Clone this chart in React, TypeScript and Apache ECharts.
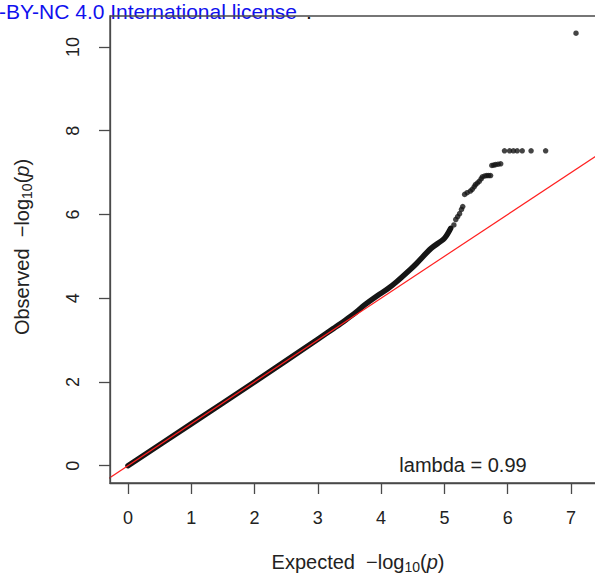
import React, { useEffect, useRef } from "react";
import * as echarts from "echarts";

// Dense part of the QQ curve (expected vs observed -log10 p)
const denseExpected = [0, 1, 2, 3, 3.25, 3.43, 3.6, 3.74, 3.94, 4.1, 4.25, 4.47, 4.56, 4.79, 5.0, 5.1];
const denseObserved = [0, 1, 2, 3.02, 3.28, 3.47, 3.66, 3.84, 4.06, 4.22, 4.4, 4.7, 4.83, 5.19, 5.43, 5.67];

// Sparse tail points
const tailExpected = [
  5.15, 5.18, 5.21, 5.24, 5.27, 5.29, 5.32, 5.36, 5.41, 5.44, 5.47, 5.49, 5.52, 5.55, 5.58,
  5.6, 5.64, 5.67, 5.7, 5.73, 5.75, 5.78, 5.81, 5.85, 5.89, 5.95, 6.03, 6.09, 6.15, 6.23,
  6.37, 6.6, 7.08,
];
const tailObserved = [
  5.75, 5.88, 5.95, 6.02, 6.12, 6.19, 6.48, 6.52, 6.56, 6.6, 6.66, 6.71, 6.75, 6.79, 6.85,
  6.9, 6.92, 6.93, 6.93, 6.93, 7.17, 7.18, 7.19, 7.2, 7.21, 7.52, 7.52, 7.52, 7.52, 7.52,
  7.52, 7.52, 10.33,
];

const xTicks = [0, 1, 2, 3, 4, 5, 6, 7];
const yTicks = [0, 2, 4, 6, 8, 10];
const xLimits = [-0.284, 7.38];
const yLimits = [-0.413, 10.74];
const refLineEnds = [-0.5, 8]; // y = x reference line
const lambdaText = "lambda = 0.99";

const FONT = "'Liberation Sans', Arial, Helvetica, sans-serif";

export default function App() {
  const ref = useRef<HTMLDivElement>(null);
  useEffect(() => {
    if (!ref.current) return;
    const chart = echarts.init(ref.current, null, { renderer: "svg" });
    const dense = denseExpected.map((x, i) => [x, denseObserved[i]]);
    const tail = tailExpected.map((x, i) => [x, tailObserved[i]]);
    const refLine = refLineEnds.map((v) => [v, v]);
    const axisColor = "#4a4a4a";
    const titleRich = {
      a: { fontSize: 20, fontFamily: FONT, fill: "#222", lineHeight: 24 },
      s: { fontSize: 14, fontFamily: FONT, fill: "#222", lineHeight: 24, padding: [9, 0, 0, 0] },
      i: { fontSize: 20, fontFamily: FONT, fontStyle: "italic", fill: "#222", lineHeight: 24 },
    };
    chart.setOption({
      animation: false,
      backgroundColor: "#ffffff",
      textStyle: { fontFamily: FONT },
      grid: {
        left: 110,
        top: 16,
        right: -10,
        bottom: 93,
        show: false,
        containLabel: false,
      },
      xAxis: {
        type: "value",
        min: xLimits[0],
        max: xLimits[1],
        splitLine: { show: false },
        axisLine: { show: true, onZero: false, lineStyle: { color: axisColor, width: 1.3 } },
        axisTick: {
          show: true,
          inside: false,
          length: 11,
          customValues: xTicks,
          lineStyle: { color: axisColor, width: 1.3 },
        },
        axisLabel: {
          show: true,
          customValues: xTicks,
          margin: 26,
          fontSize: 18,
          color: "#222",
          fontFamily: FONT,
        },
      },
      yAxis: [
        {
          type: "value",
          min: yLimits[0],
          max: yLimits[1],
          splitLine: { show: false },
          axisLine: { show: true, onZero: false, lineStyle: { color: axisColor, width: 1.3 } },
          axisTick: {
            show: true,
            inside: false,
            length: 11,
            customValues: yTicks,
            lineStyle: { color: axisColor, width: 1.3 },
          },
          axisLabel: {
            show: true,
            customValues: yTicks,
            rotate: 90,
            margin: 28,
            fontSize: 18,
            color: "#222",
            fontFamily: FONT,
          },
        },
      ],
      series: [
        {
          type: "line",
          data: dense,
          symbol: "none",
          smooth: 0.3,
          lineStyle: { color: "#151515", width: 5.5, cap: "round", join: "round" },
          z: 2,
        },
        {
          type: "scatter",
          data: tail,
          symbol: "circle",
          symbolSize: 5.5,
          itemStyle: { color: "#151515" },
          z: 2,
        },
        {
          type: "line",
          data: refLine,
          symbol: "none",
          lineStyle: { color: "#ff2020", width: 1.2 },
          z: 3,
        },
      ],
      graphic: {
        elements: [
          {
            type: "rect",
            x: 0,
            y: 0,
            shape: { x: 110, y: 16, width: 500, height: 467 },
            style: { fill: "rgba(0,0,0,0)", stroke: axisColor, lineWidth: 1.4 },
            silent: true,
            z: 100,
          },
          {
            type: "text",
            x: -1,
            y: 11,
            style: {
              text: "-BY-NC 4.0 International license",
              fill: "#1010ee",
              font: `21px ${FONT}`,
              verticalAlign: "middle",
            },
            z: 1,
          },
          {
            type: "text",
            x: 306,
            y: 11,
            style: {
              text: ".",
              fill: "#111",
              font: `21px ${FONT}`,
              verticalAlign: "middle",
            },
          },
          {
            type: "text",
            x: 463,
            y: 465,
            style: {
              text: lambdaText,
              fill: "#222",
              font: `20px ${FONT}`,
              align: "center",
              verticalAlign: "middle",
            },
          },
          {
            type: "text",
            x: 358,
            y: 562,
            style: {
              text: "{a|Expected  −log}{s|10}{a|(}{i|p}{a|)}",
              align: "center",
              verticalAlign: "middle",
              fill: "#222",
              rich: titleRich,
            },
          },
          {
            type: "text",
            x: 22,
            y: 247,
            rotation: Math.PI / 2,
            style: {
              text: "{a|Observed  −log}{s|10}{a|(}{i|p}{a|)}",
              align: "center",
              verticalAlign: "middle",
              fill: "#222",
              rich: titleRich,
            },
          },
        ],
      },
    });
    return () => chart.dispose();
  }, []);
  return (
    <div
      ref={ref}
      style={{ position: "absolute", left: 0, top: 0, width: 595, height: 576 }}
    />
  );
}
